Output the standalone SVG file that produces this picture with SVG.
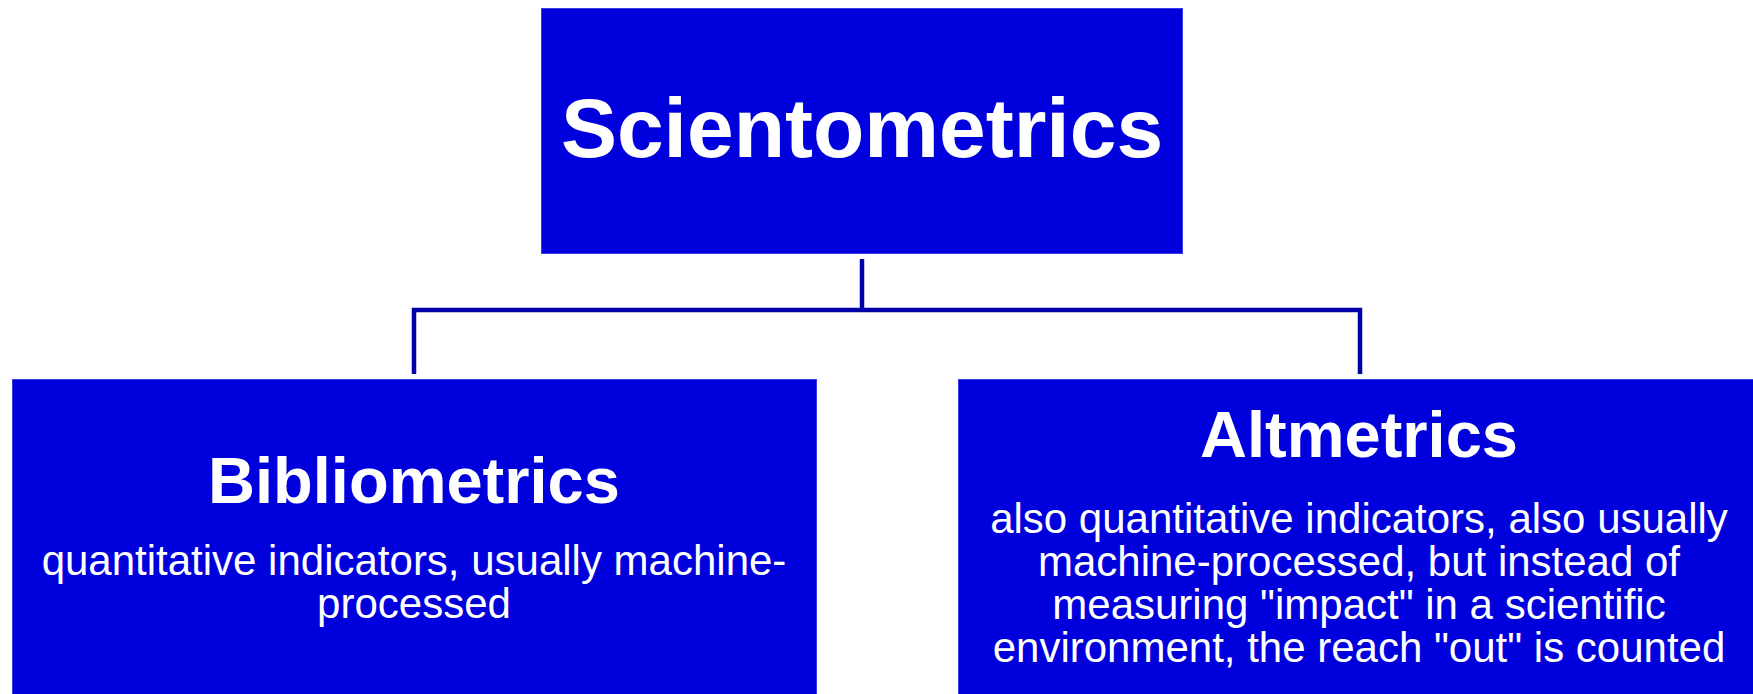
<svg xmlns="http://www.w3.org/2000/svg" width="1753" height="694" viewBox="0 0 1753 694">
<style>
.box{fill:#0000DC;stroke:#3A3AE6;stroke-width:1}
.title{font-family:"Liberation Sans",Arial,sans-serif;font-weight:bold;fill:#FFFFFF;text-anchor:middle}
.body{font-family:"Liberation Sans",Arial,sans-serif;font-size:42px;fill:#FFFFFF;text-anchor:middle}
.conn{fill:none;stroke:#0000A8;stroke-width:4.5}
</style>
<rect width="1753" height="694" fill="#FFFFFF"/>
<g id="connectors">
<path class="conn" d="M862,259 V310"/>
<path class="conn" d="M414,374 V310 H1360 V374"/>
</g>
<g id="scientometrics">
<rect class="box" x="541.5" y="8.5" width="641" height="245"/>
<text class="title" x="862" y="157" font-size="84">Scientometrics</text>
</g>
<g id="bibliometrics">
<rect class="box" x="12.5" y="379.5" width="804" height="320"/>
<text class="title" x="414" y="503" font-size="65">Bibliometrics</text>
<text class="body" x="414" y="575">quantitative indicators, usually machine-</text>
<text class="body" x="414" y="618">processed</text>
</g>
<g id="altmetrics">
<rect class="box" x="958.5" y="379.5" width="800" height="320"/>
<text class="title" x="1359" y="457" font-size="65">Altmetrics</text>
<text class="body" x="1359" y="533">also quantitative indicators, also usually</text>
<text class="body" x="1359" y="576">machine-processed, but instead of</text>
<text class="body" x="1359" y="619">measuring "impact" in a scientific</text>
<text class="body" x="1359" y="662">environment, the reach "out" is counted</text>
</g>
</svg>
